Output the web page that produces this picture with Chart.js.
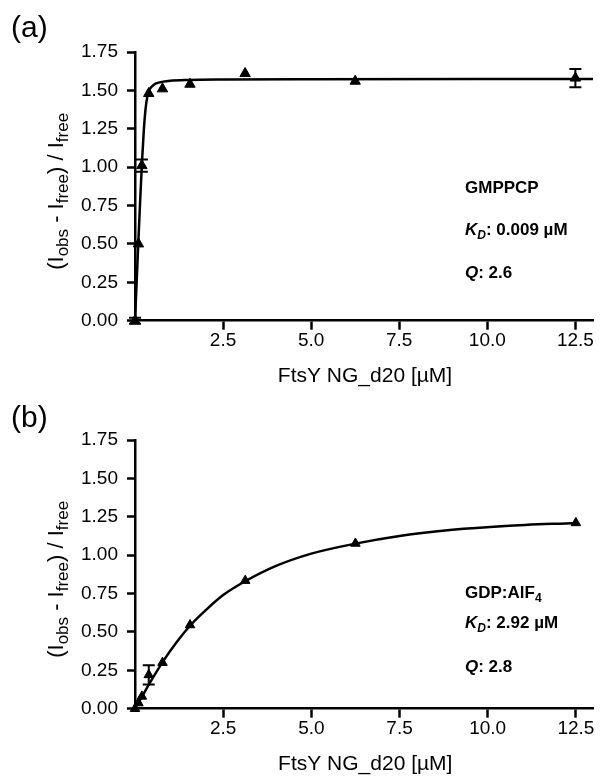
<!DOCTYPE html>
<html><head><meta charset="utf-8">
<script src="https://cdn.jsdelivr.net/npm/chart.js@4"></script>
<style>
html,body{margin:0;padding:0;background:#fff;}
body{width:600px;height:781px;position:relative;overflow:hidden;}
.wrap{position:absolute;left:0;width:600px;height:390px;}
canvas{display:block;}
</style></head><body>
<div class="wrap" style="top:0"><canvas id="ca" width="600" height="390"></canvas></div>
<div class="wrap" style="top:388px"><canvas id="cb" width="600" height="390"></canvas></div>
<script>
// ---- data ----
const xTickValues = [2.5, 5.0, 7.5, 10.0, 12.5];
const yTickValues = [0, 0.25, 0.5, 0.75, 1.0, 1.25, 1.5, 1.75];

// panel (a) GMPPCP
const concA = [0, 0.098, 0.195, 0.39, 0.78, 1.56, 3.125, 6.25, 12.5];
const signalA = [0, 0.50, 1.01, 1.48, 1.51, 1.54, 1.61, 1.56, 1.58];
const errA = [0.02, 0, 0.04, 0, 0, 0, 0, 0, 0.06];
const fitXA = [0, 0.05, 0.1, 0.15, 0.2, 0.25, 0.3, 0.35, 0.4, 0.5, 0.6, 0.8, 1.0, 1.5, 2.5, 5, 13];
const fitYA = [0, 0.27, 0.54, 0.80, 1.04, 1.24, 1.38, 1.46, 1.50, 1.53, 1.545, 1.557, 1.563, 1.568, 1.571, 1.573, 1.574];

// panel (b) GDP:AlF4
const concB = [0, 0.098, 0.195, 0.39, 0.78, 1.56, 3.125, 6.25, 12.5];
const signalB = [0, 0.037, 0.08, 0.22, 0.30, 0.545, 0.834, 1.076, 1.21];
const errB = [0, 0, 0, 0.063, 0, 0, 0, 0, 0];
const fitXB = [0, 0.2, 0.4, 0.8, 1.2, 1.6, 2.0, 2.5, 3.125, 4, 5, 6.25, 7.5, 9, 10.5, 12.5];
const fitYB = [0, 0.08, 0.16, 0.31, 0.44, 0.55, 0.64, 0.74, 0.83, 0.93, 1.01, 1.075, 1.125, 1.165, 1.19, 1.21];

const xLabel = 'FtsY NG_d20 [\u00b5M]';

Chart.defaults.color = '#000';
Chart.defaults.font.family = '"Liberation Sans", Arial, Helvetica, sans-serif';

const FAM = '"Liberation Sans", Arial, sans-serif';

function pts(xs, ys) { return xs.map((x, i) => ({x: x, y: ys[i]})); }

const errorBarPlugin = {
  id: 'errbars',
  afterDatasetsDraw(chart, args, opts) {
    const ctx = chart.ctx, xs = chart.scales.x, ys = chart.scales.y;
    ctx.save();
    ctx.strokeStyle = '#000';
    ctx.lineWidth = 2;
    opts.x.forEach((xv, i) => {
      const e = opts.err[i];
      if (!e) return;
      const px = xs.getPixelForValue(xv);
      const top = ys.getPixelForValue(opts.y[i] + e);
      const bot = ys.getPixelForValue(opts.y[i] - e);
      ctx.beginPath();
      ctx.moveTo(px, top); ctx.lineTo(px, bot);
      ctx.moveTo(px - 6, top); ctx.lineTo(px + 6, top);
      ctx.moveTo(px - 6, bot); ctx.lineTo(px + 6, bot);
      ctx.stroke();
    });
    ctx.restore();
  }
};

function drawRuns(ctx, x, y, runs) {
  let cx = x;
  runs.forEach(r => {
    ctx.font = r.font;
    ctx.fillText(r.t, cx, y + (r.dy || 0));
    cx += ctx.measureText(r.t).width;
  });
  return cx;
}

const textPlugin = {
  id: 'texts',
  afterDraw(chart, args, opts) {
    const ctx = chart.ctx, ca = chart.chartArea;
    ctx.save();
    ctx.fillStyle = '#000';
    ctx.textBaseline = 'alphabetic';
    ctx.textAlign = 'left';
    // panel label
    ctx.font = '30px ' + FAM;
    ctx.fillText(opts.panel, 11, opts.panelY);
    // x title
    ctx.font = '21px ' + FAM;
    ctx.textAlign = 'center';
    ctx.fillText(xLabel, (ca.left + ca.right) / 2 + 1, ca.bottom + 61);
    ctx.textAlign = 'left';
    // y title (rotated, with subscripts)
    const M = '22px ' + FAM, S = '17px ' + FAM;
    const runs = [
      {t: '(I', font: M}, {t: 'obs', font: S, dy: 5},
      {t: ' - I', font: M}, {t: 'free', font: S, dy: 5},
      {t: ') / I', font: M}, {t: 'free', font: S, dy: 5}
    ];
    let w = 0;
    runs.forEach(r => { ctx.font = r.font; w += ctx.measureText(r.t).width; });
    ctx.translate(63, (ca.top + ca.bottom) / 2 + 5);
    ctx.rotate(-Math.PI / 2);
    drawRuns(ctx, -w / 2, 0, runs);
    ctx.setTransform(1, 0, 0, 1, 0, 0);
    // annotations
    const B = 'bold 17px ' + FAM, BI = 'italic bold 17px ' + FAM, BIs = 'italic bold 12px ' + FAM, Bs = 'bold 12px ' + FAM;
    const ax = 465;
    drawRuns(ctx, ax, opts.lineY[0], opts.name === 'a'
      ? [{t: 'GMPPCP', font: B}]
      : [{t: 'GDP:AlF', font: B}, {t: '4', font: Bs, dy: 4}]);
    drawRuns(ctx, ax, opts.lineY[1], [{t: 'K', font: BI}, {t: 'D', font: BIs, dy: 4}, {t: ': ' + opts.kd, font: B}]);
    drawRuns(ctx, ax, opts.lineY[2], [{t: 'Q', font: BI}, {t: ': ' + opts.q, font: B}]);
    ctx.restore();
  }
};

function makeChart(id, cx, cy, err, fx, fy, radius, textOpts) {
  const axisCommon = {
    border: {display: true, color: '#000', width: 2.5},
    grid: {display: true, drawOnChartArea: false, drawTicks: true, tickLength: 9, tickColor: '#000', tickWidth: 2.5, color: '#000'},
  };
  return new Chart(document.getElementById(id), {
    type: 'scatter',
    data: {
      datasets: [
        {
          data: pts(cx, cy), pointStyle: 'triangle', pointRadius: radius,
          backgroundColor: '#000', borderColor: '#000', borderWidth: 1, showLine: false, clip: false
        },
        {
          data: pts(fx, fy), showLine: true, pointRadius: 0, borderColor: '#000', borderWidth: 2.5,
          cubicInterpolationMode: 'monotone', fill: false, clip: false
        }
      ]
    },
    options: {
      responsive: false, animation: false,
      layout: {padding: {top: 52, right: 6, left: 0, bottom: 0}},
      plugins: {legend: {display: false}, tooltip: {enabled: false},
        errbars: {x: cx, y: cy, err: err}, texts: textOpts},
      scales: {
        x: Object.assign({}, axisCommon, {
          type: 'linear', min: 0, max: 13,
          afterBuildTicks: s => { s.ticks = xTickValues.map(v => ({value: v})); },
          afterFit: s => { s.height = 69.3; },
          ticks: {font: {size: 19}, color: '#000', padding: 0, maxRotation: 0, autoSkip: false,
            callback: v => Number(v).toFixed(1)}
        }),
        y: Object.assign({}, axisCommon, {
          type: 'linear', min: 0, max: 1.75,
          afterBuildTicks: s => { s.ticks = yTickValues.map(v => ({value: v})); },
          afterFit: s => { s.width = 135; },
          grid: Object.assign({}, axisCommon.grid, {tickLength: 8}),
          ticks: {font: {size: 19}, color: '#000', padding: 9, autoSkip: false,
            callback: v => Number(v).toFixed(2)}
        })
      }
    },
    plugins: [errorBarPlugin, textPlugin]
  });
}

makeChart('ca', concA, signalA, errA, fitXA, fitYA, 6,
  {name: 'a', panel: '(a)', panelY: 37, kd: '0.009 \u00b5M', q: '2.6', lineY: [193, 235, 278]});
makeChart('cb', concB, signalB, errB, fitXB, fitYB, 5.5,
  {name: 'b', panel: '(b)', panelY: 39, kd: '2.92 \u00b5M', q: '2.8', lineY: [210, 240, 284]});
</script>
</body></html>
